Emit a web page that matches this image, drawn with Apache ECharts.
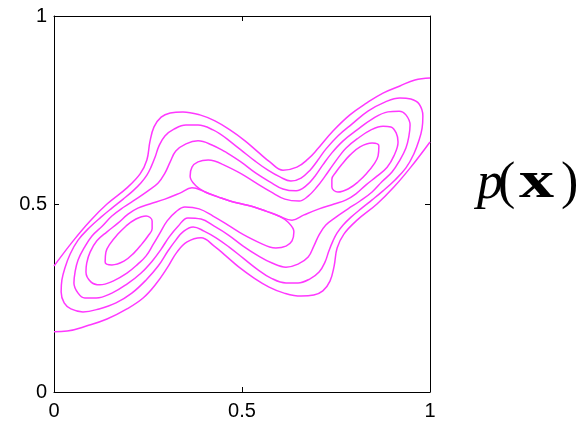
<!DOCTYPE html>
<html>
<head>
<meta charset="utf-8">
<script src="https://cdn.jsdelivr.net/npm/echarts@6/dist/echarts.min.js"></script>
<style>
  html, body { margin: 0; padding: 0; background: #fff; }
  #chart { width: 588px; height: 422px; }
</style>
</head>
<body>
<div id="chart"></div>
<script>
// Tick values of both axes
const tickValues = [0, 0.5, 1];

// Contour lines of p(x), points [x, y]
// outermost level (clipped by the box): upper-left piece and lower-right piece
const level1Upper = [[0,.335],[.051,.402],[.096,.455],[.141,.500],[.194,.543],[.229,.580],[.247,.617],[.255,.665],[.266,.705],[.285,.731],[.309,.742],[.343,.745],[.388,.737],[.428,.721],[.468,.697],[.508,.668],[.543,.638],[.574,.612],[.609,.590],[.646,.598],[.676,.620],[.699,.644],[.742,.694],[.787,.737],[.832,.769],[.875,.795],[.920,.814],[.960,.830],[1,.835]];
const level1Lower = [[1,.665],[.949,.598],[.904,.545],[.859,.500],[.806,.457],[.771,.420],[.753,.383],[.745,.335],[.734,.295],[.715,.269],[.691,.258],[.657,.255],[.612,.263],[.572,.279],[.532,.303],[.492,.332],[.457,.362],[.426,.388],[.391,.410],[.354,.399],[.327,.372],[.301,.330],[.271,.287],[.237,.250],[.194,.221],[.141,.194],[.088,.176],[.035,.162],[0,.160]];

// second level (closed)
const level2 = [[.460,.673],[.497,.644],[.535,.614],[.569,.590],[.601,.572],[.630,.561],[.657,.569],[.681,.590],[.702,.617],[.723,.646],[.755,.681],[.793,.713],[.835,.747],[.880,.771],[.920,.782],[.949,.779],[.971,.766],[.981,.734],
  [.979,.702],[.971,.670],[.957,.633],[.936,.596],[.907,.564],[.875,.535],[.846,.511],[.816,.487],[.790,.465],[.769,.444],[.753,.423],[.742,.402],[.731,.375],[.721,.346],[.705,.319],[.681,.301],[.649,.290],[.617,.290],[.577,.303],[.540,.327],[.503,.356],[.465,.386],[.431,.410],[.399,.428],[.370,.439],[.343,.426],[.324,.404],[.303,.375],[.277,.335],[.245,.298],[.207,.263],[.165,.237],[.120,.221],[.077,.213],[.045,.221],[.027,.237],[.019,.266],
  [.021,.298],[.029,.330],[.043,.367],[.064,.404],[.093,.436],[.125,.465],[.154,.489],[.184,.513],[.210,.535],[.231,.556],[.247,.577],[.258,.598],[.269,.625],[.279,.654],[.295,.681],[.319,.699],[.351,.710],[.383,.710],[.423,.697],[.460,.673]];

// third level (closed)
const level3 = [[.460,.636],[.497,.612],[.537,.582],[.574,.559],[.609,.540],[.644,.535],[.670,.548],[.694,.574],[.715,.604],[.739,.636],[.769,.668],[.806,.697],[.846,.726],[.888,.745],[.918,.747],[.936,.737],[.947,.710],
  [.944,.681],[.936,.649],[.920,.617],[.899,.585],[.872,.559],[.846,.532],[.814,.508],[.782,.487],[.750,.465],[.723,.444],[.705,.418],[.691,.388],[.676,.359],[.649,.340],[.617,.332],[.580,.343],[.540,.364],[.503,.388],[.463,.418],[.426,.441],[.391,.460],[.356,.463],[.330,.441],[.306,.412],[.285,.380],[.261,.348],[.231,.316],[.194,.287],[.154,.263],[.112,.250],[.082,.250],[.064,.263],[.053,.290],
  [.056,.319],[.064,.351],[.080,.383],[.101,.415],[.128,.441],[.154,.468],[.186,.492],[.218,.513],[.250,.535],[.277,.556],[.295,.582],[.309,.612],[.324,.641],[.351,.660],[.383,.668],[.420,.657],[.460,.636]];

// fourth level: lobe around the upper-right peak and lobe around the lower-left peak
const level4Right = [[.447,.606],[.495,.582],[.537,.556],[.577,.532],[.614,.513],[.652,.508],[.676,.521],[.699,.545],[.721,.574],[.742,.604],[.761,.630],[.777,.649],[.806,.673],[.843,.697],[.875,.707],[.896,.705],[.910,.689],[.915,.665],[.904,.628],[.886,.598],[.859,.574],[.830,.551],[.803,.527],[.777,.511],[.745,.500],[.705,.487],[.665,.471],[.633,.457],[.598,.468],[.564,.481],[.532,.492],[.500,.500],[.468,.508],[.436,.519],[.402,.532],[.378,.548],[.362,.574],[.367,.598],[.383,.612],[.410,.617],[.447,.606]];
const level4Left = [[.553,.394],[.505,.418],[.463,.444],[.423,.468],[.386,.487],[.348,.492],[.324,.479],[.301,.455],[.282,.423],[.263,.391],[.245,.362],[.223,.340],[.194,.316],[.157,.295],[.122,.285],[.098,.293],[.085,.319],[.087,.343],[.096,.372],[.114,.402],[.141,.426],[.170,.449],[.197,.473],[.223,.489],[.255,.500],[.295,.513],[.335,.529],[.367,.543],[.402,.532],[.436,.519],[.468,.508],[.500,.500],[.532,.492],[.564,.481],[.598,.468],[.622,.452],[.638,.426],[.633,.402],[.617,.388],[.590,.383],[.553,.394]];

// innermost level: the two peak ellipses
const level5Right = [[.809,.559],[.832,.582],[.851,.606],[.862,.628],[.864,.654],[.846,.662],[.814,.652],[.787,.630],[.766,.606],[.750,.585],[.739,.566],[.739,.545],[.755,.532],[.782,.540],[.809,.559]];
const level5Left = [[.191,.441],[.168,.418],[.149,.394],[.138,.372],[.136,.346],[.154,.338],[.186,.348],[.213,.370],[.234,.394],[.250,.415],[.261,.434],[.261,.455],[.245,.468],[.218,.460],[.191,.441]];

const contourLines = [level1Upper, level1Lower, level2, level3, level4Right, level4Left, level5Right, level5Left];

const chart = echarts.init(document.getElementById('chart'), null, { renderer: 'canvas' });

const axisFont = { fontSize: 20, color: '#000', fontFamily: '"Liberation Sans", Arial, Helvetica, sans-serif' };
function makeAxis(pos, showLabel, margin) {
  return {
    type: 'value', min: tickValues[0], max: tickValues[tickValues.length - 1],
    interval: tickValues[1] - tickValues[0], position: pos,
    axisLine: { show: true, onZero: false, lineStyle: { color: '#000', width: 1 } },
    axisTick: { show: true, inside: true, length: 5, lineStyle: { color: '#000', width: 1 } },
    axisLabel: Object.assign({ show: showLabel, margin: margin }, axisFont),
    splitLine: { show: false }
  };
}

const magenta = '#ff38ff';
const series = contourLines.map(function (pts) {
  return {
    type: 'line', data: pts, xAxisIndex: 0, yAxisIndex: 0,
    showSymbol: false, symbol: 'none', smooth: 0.4, clip: true,
    lineStyle: { color: magenta, width: 1.5 }, silent: true
  };
});

const serif = '"Liberation Serif", "Times New Roman", serif';
chart.setOption({
  animation: false,
  backgroundColor: '#fff',
  grid: { left: 54, top: 16, width: 376, height: 376 },
  xAxis: [makeAxis('bottom', true, 9), makeAxis('top', false, 8)],
  yAxis: [makeAxis('left', true, 7), makeAxis('right', false, 8)],
  series: series,
  graphic: [
    { type: 'text', x: 477, y: 158, style: { text: 'p', font: 'italic 52px ' + serif, fill: '#000', verticalAlign: 'top' } },
    { type: 'text', x: 498, y: 158, style: { text: '(', font: '52px ' + serif, fill: '#000', verticalAlign: 'top' } },
    { type: 'text', x: 519, y: 158, scaleX: 1.35, style: { text: 'x', font: 'bold 52px ' + serif, fill: '#000', verticalAlign: 'top' } },
    { type: 'text', x: 561, y: 158, style: { text: ')', font: '52px ' + serif, fill: '#000', verticalAlign: 'top' } }
  ]
});
</script>
</body>
</html>
